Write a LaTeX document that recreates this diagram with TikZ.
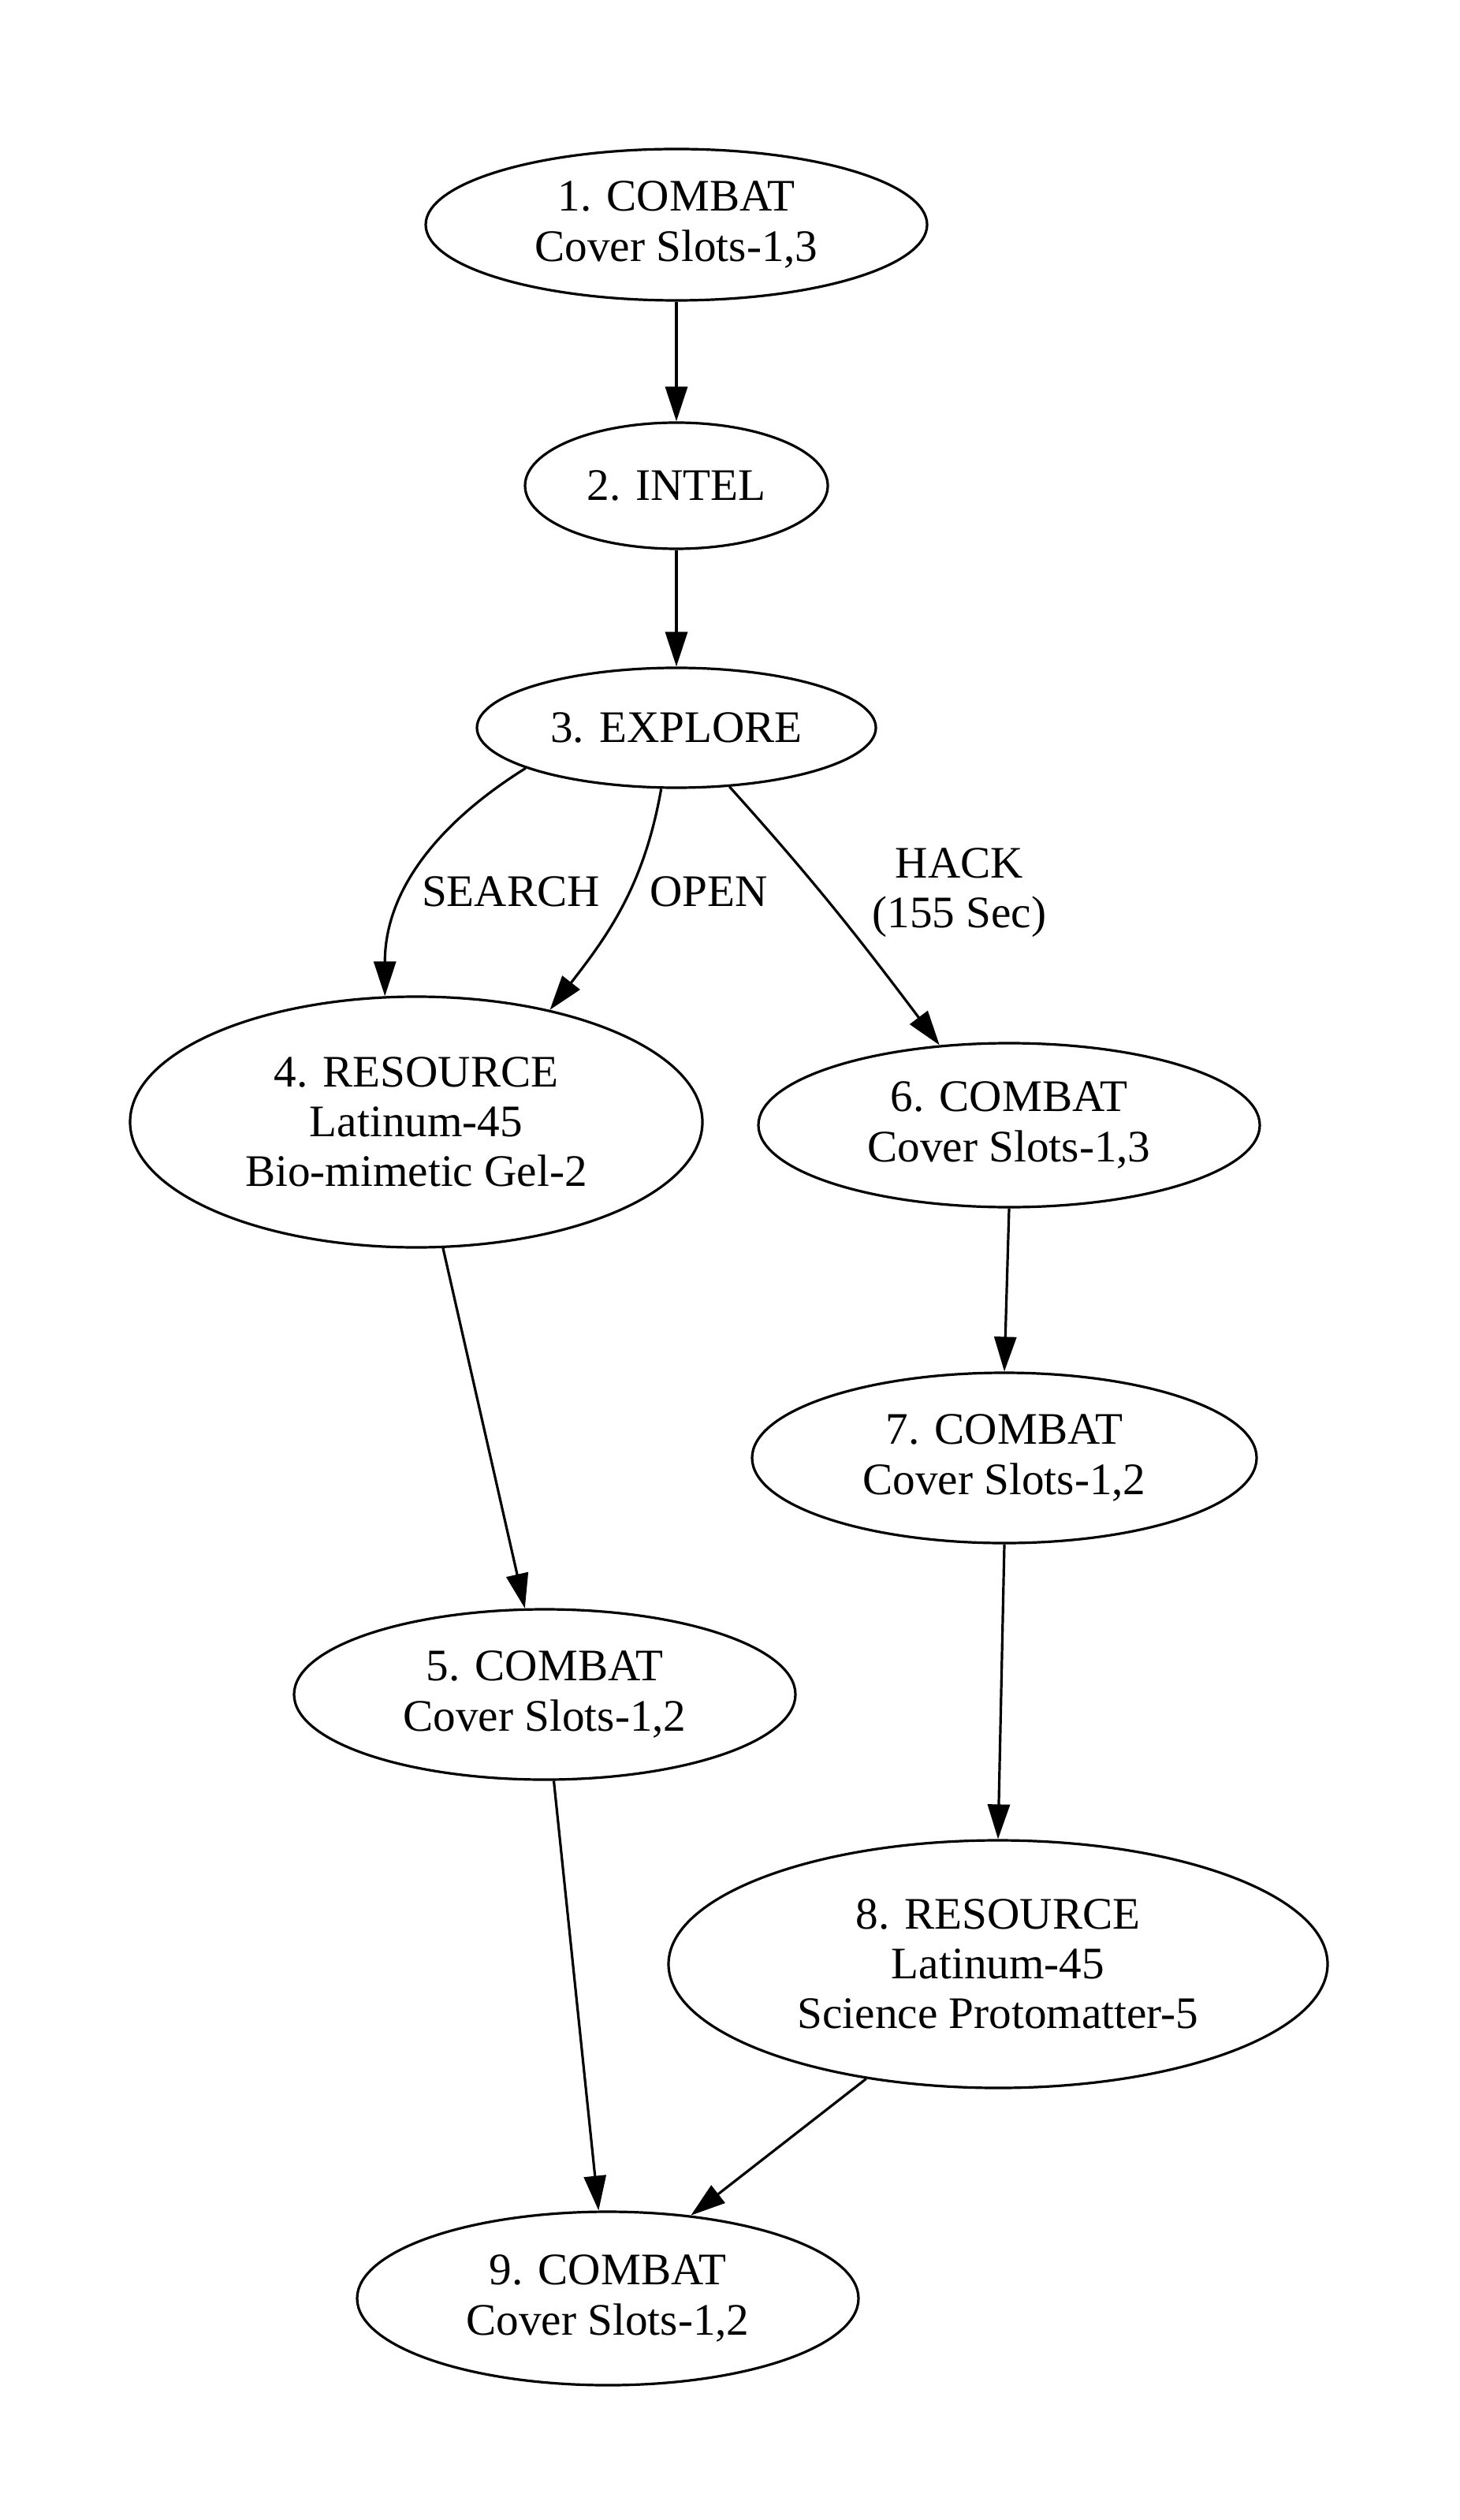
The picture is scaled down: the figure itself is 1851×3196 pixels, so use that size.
\documentclass[tikz,border=0pt]{standalone}
\usepackage{fontspec}
\setmainfont{Liberation Serif}
\usetikzlibrary{shapes.geometric,arrows.meta}
\begin{document}
\begin{tikzpicture}[x=0.25pt,y=-0.25pt,
  state/.style 2 args={ellipse,draw,line width=0.8pt,inner sep=0pt,
    minimum width=#1*0.5pt,minimum height=#2*0.5pt,align=center,
    font=\fontsize{14.3pt}{15.8pt}\selectfont},
  flow/.style={line width=0.8pt,-{Triangle[length=11pt,width=7pt]}},
  tag/.style={align=center,font=\fontsize{14.3pt}{15.8pt}\selectfont}]
\useasboundingbox[fill=white] (0,0) rectangle (1851,3196);

% states
\node[state={318}{96}]  (n1) at (858,285)   {1. COMBAT\\Cover Slots-1,3};
\node[state={192}{80}]  (n2) at (858,616)   {2. INTEL};
\node[state={253}{76}]  (n3) at (858,923)   {3. EXPLORE};
\node[state={363}{159}] (n4) at (528,1423)  {4. RESOURCE\\Latinum-45\\Bio-mimetic Gel-2};
\node[state={318}{104}] (n6) at (1280,1427) {6. COMBAT\\Cover Slots-1,3};
\node[state={320}{108}] (n7) at (1274,1849) {7. COMBAT\\Cover Slots-1,2};
\node[state={318}{108}] (n5) at (691,2149)  {5. COMBAT\\Cover Slots-1,2};
\node[state={418}{157}] (n8) at (1266,2491) {8. RESOURCE\\Latinum-45\\Science Protomatter-5};
\node[state={318}{110}] (n9) at (771,2915)  {9. COMBAT\\Cover Slots-1,2};

% transitions
\draw[flow] (n1.south) -- (n2.north);
\draw[flow] (n2.south) -- (n3.north);
\draw[flow] (n3.195) to[out=212,in=90] (n4.104);
\draw[flow] (n3.256) to[out=-100,in=52] (n4.40);
\draw[flow] (n3.-48) to[out=-48,in=127] (n6.131);
\draw[flow] (n4.-78) -- (n5.103);
\draw[flow] (n6.south) -- (n7.north);
\draw[flow] (n5.-84) -- (n9.96);
\draw[flow] (n7.south) -- (n8.north);
\draw[flow] (n8.221) -- (n9.45);

% edge labels
\node[tag] (lsearch) at (648,1131) {SEARCH};
\node[tag] (lopen)   at (899,1131) {OPEN};
\node[tag] (lhack)   at (1217,1132) {HACK\\(155 Sec)};
\end{tikzpicture}
\end{document}
